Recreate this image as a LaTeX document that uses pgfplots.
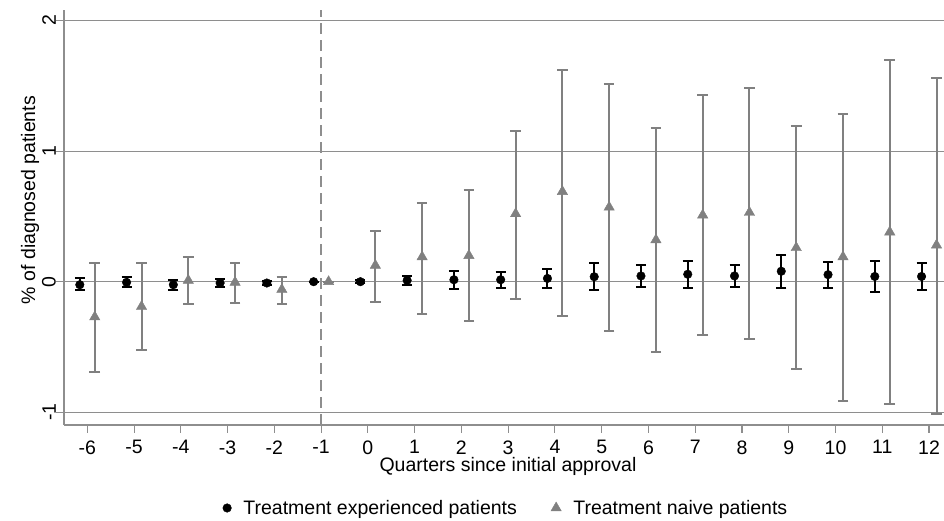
\documentclass[border=0pt]{standalone}
\usepackage{fontspec}
\setmainfont{Liberation Sans}
\usepackage{pgfplots}
\usepackage{pgfplotstable}
\pgfplotsset{compat=1.18}
\definecolor{lgray}{HTML}{8E8E8E}
\definecolor{mgray}{HTML}{808080}
\newcommand\ff{\fontsize{19.5}{23}\selectfont}

% quarter, estimate, upper error, lower error
\pgfplotstableread{
q y ep em
-6 -0.023 0.051 0.043
-5 -0.005 0.038 0.035
-4 -0.023 0.038 0.038
-3 -0.010 0.030 0.030
-2 -0.010 0.015 0.015
-1 0.000 0.000 0.000
0 0.000 0.010 0.010
1 0.010 0.036 0.035
2 0.015 0.065 0.071
3 0.015 0.059 0.061
4 0.025 0.072 0.071
5 0.038 0.107 0.104
6 0.044 0.084 0.087
7 0.057 0.103 0.102
8 0.044 0.084 0.081
9 0.080 0.127 0.130
10 0.054 0.100 0.099
11 0.040 0.120 0.117
12 0.040 0.100 0.100
}\experienced

\pgfplotstableread{
q y ep em
-6 -0.270 0.410 0.420
-5 -0.190 0.330 0.335
-4 0.010 0.180 0.180
-3 -0.005 0.145 0.155
-2 -0.060 0.096 0.110
-1 0.000 0.000 0.000
0 0.125 0.265 0.278
1 0.190 0.410 0.440
2 0.200 0.500 0.500
3 0.520 0.630 0.650
4 0.690 0.930 0.950
5 0.570 0.940 0.950
6 0.320 0.860 0.860
7 0.510 0.920 0.920
8 0.530 0.950 0.970
9 0.260 0.930 0.930
10 0.190 1.090 1.105
11 0.380 1.320 1.320
12 0.280 1.280 1.290
}\naive

\begin{document}
\begin{tikzpicture}
\useasboundingbox (-64pt,-96pt) rectangle (880pt,425pt);
\begin{axis}[
  at={(0pt,0pt)}, anchor=south west,
  scale only axis, width=880pt, height=415pt,
  xmin=-6.498, xmax=12.32, ymin=-1.097, ymax=2.08,
  axis lines=left,
  axis line style={-, draw=lgray, line width=1.1pt},
  tick style={draw=lgray, line width=1.1pt},
  tick align=outside, major tick length=8pt,
  xtick={-6,...,12}, ytick={-1,0,1,2},
  ymajorgrids, grid style={draw=lgray, line width=1.1pt},
  /pgf/number format/assume math mode=true,
  tick label style={font=\ff},
  yticklabel style={rotate=90, anchor=south, inner sep=0pt},
  xticklabel style={yshift=-4pt},
  label style={font=\ff},
  xlabel={Quarters since initial approval},
  ylabel={\% of diagnosed patients},
  xlabel style={at={(axis description cs:0.5045,-0.1005)}, anchor=center},
  ylabel style={at={(axis description cs:-0.0386,0.542)}, anchor=center},
  legend style={draw=none, fill=none, font=\ff,
    at={(axis description cs:0.5023,-0.2)}, anchor=center,
    legend columns=2,
    /tikz/every odd column/.append style={column sep=10pt},
    /tikz/every even column/.append style={column sep=32pt}},
  legend cell align=left,
]
\addplot[lgray, line width=1.3pt, dash pattern=on 11pt off 6pt, forget plot]
  coordinates {(-1,-1.097) (-1,2.08)};

\addplot[only marks, mark=*, mark size=4.3pt, black, line width=2pt,
  mark options={line width=0.4pt},
  error bars/.cd, y dir=both, y explicit,
  error bar style={line width=2pt, black},
  error mark options={rotate=90, mark size=5pt, line width=2pt, black}]
  table[x expr=\thisrow{q}-0.16, y=y, y error plus=ep, y error minus=em] {\experienced};
\addlegendentry{Treatment experienced patients}

\addplot[only marks, mark=triangle*, mark size=6pt, mgray, line width=2pt,
  mark options={line width=0.4pt},
  error bars/.cd, y dir=both, y explicit,
  error bar style={line width=2pt, mgray},
  error mark options={rotate=90, mark size=5.3pt, line width=2pt, mgray}]
  table[x expr=\thisrow{q}+0.16, y=y, y error plus=ep, y error minus=em] {\naive};
\addlegendentry{Treatment naive patients}
\end{axis}
\end{tikzpicture}
\end{document}
